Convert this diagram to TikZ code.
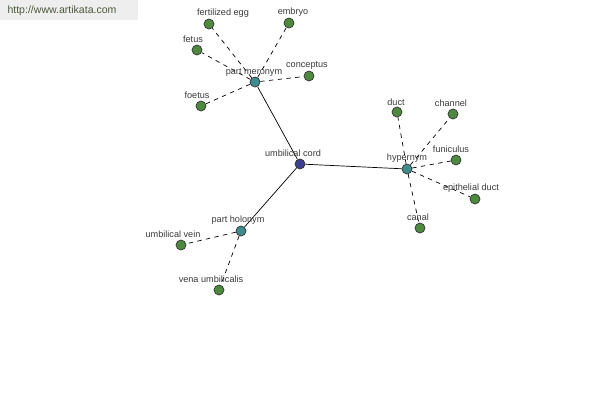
\documentclass[tikz,border=0pt]{standalone}
\usepackage{fontspec}
\setmainfont{Liberation Sans}
\usepackage{xcolor}
\usetikzlibrary{positioning}
\definecolor{leafgreen}{HTML}{4E8A3E}
\definecolor{hubteal}{HTML}{3E8C8C}
\definecolor{rootblue}{HTML}{3E3E8E}
\definecolor{lblgray}{HTML}{3A3A3A}
\definecolor{markgray}{HTML}{EEEEEE}
\definecolor{marktext}{HTML}{4A5A3A}

\begin{document}
\begin{tikzpicture}[
    x=0.02cm, y=-0.02cm,
    dot/.style={circle, draw=black!80, line width=0.4pt, inner sep=0pt, minimum size=0.2cm},
    leaf/.style={dot, fill=leafgreen},
    hub/.style={dot, fill=hubteal},
    root/.style={dot, fill=rootblue},
    lbl/.style={inner sep=0pt, text=lblgray, font=\fontsize{5.2}{6}\selectfont},
    link/.style={black, line width=0.4pt},
    rel/.style={black, line width=0.4pt, dashed, dash pattern=on 2.5pt off 2.5pt}
]
\useasboundingbox[fill=white] (0,0) rectangle (600,400);

% watermark
\fill[markgray] (0,0) rectangle (138,20);
\node[inner sep=0pt, text=marktext, font=\fontsize{6}{7}\selectfont] (site) at (62,11) {http://www.artikata.com};

% hubs
\node[root] (cord) at (300,164) {};
\node[hub] (meronym) at (255,82) {};
\node[hub] (hypernym) at (407,169) {};
\node[hub] (holonym) at (241,231) {};

% leaves
\node[leaf] (egg) at (209,24) {};
\node[leaf] (embryo) at (289,23) {};
\node[leaf] (fetus) at (197,50) {};
\node[leaf] (conceptus) at (309,76) {};
\node[leaf] (foetus) at (201,106) {};
\node[leaf] (duct) at (397,112) {};
\node[leaf] (channel) at (453,114) {};
\node[leaf] (funiculus) at (456,160) {};
\node[leaf] (epiduct) at (475,199) {};
\node[leaf] (canal) at (420,228) {};
\node[leaf] (vein) at (181,245) {};
\node[leaf] (vena) at (219,290) {};

% edges
\draw[link] (cord) -- (meronym);
\draw[link] (cord) -- (hypernym);
\draw[link] (cord) -- (holonym);
\foreach \n in {egg,embryo,fetus,conceptus,foetus}
    \draw[rel] (meronym) -- (\n);
\foreach \n in {duct,channel,funiculus,epiduct,canal}
    \draw[rel] (hypernym) -- (\n);
\foreach \n in {vein,vena}
    \draw[rel] (holonym) -- (\n);

% labels
\node[lbl] (l-cord) at (293,153) {umbilical cord};
\node[lbl] (l-meronym) at (254,72) {part meronym};
\node[lbl] (l-hypernym) at (407,158) {hypernym};
\node[lbl] (l-holonym) at (238,220) {part holonym};
\node[lbl] (l-egg) at (223,13) {fertilized egg};
\node[lbl] (l-embryo) at (293,12) {embryo};
\node[lbl] (l-fetus) at (193,39) {fetus};
\node[lbl] (l-conceptus) at (307,65) {conceptus};
\node[lbl] (l-foetus) at (197,95) {foetus};
\node[lbl] (l-duct) at (396,102) {duct};
\node[lbl] (l-channel) at (451,103) {channel};
\node[lbl] (l-funiculus) at (451,149) {funiculus};
\node[lbl] (l-epiduct) at (471,188) {epithelial duct};
\node[lbl] (l-canal) at (418,217) {canal};
\node[lbl] (l-vein) at (173,234) {umbilical vein};
\node[lbl] (l-vena) at (211,279) {vena umbilicalis};
\end{tikzpicture}
\end{document}
